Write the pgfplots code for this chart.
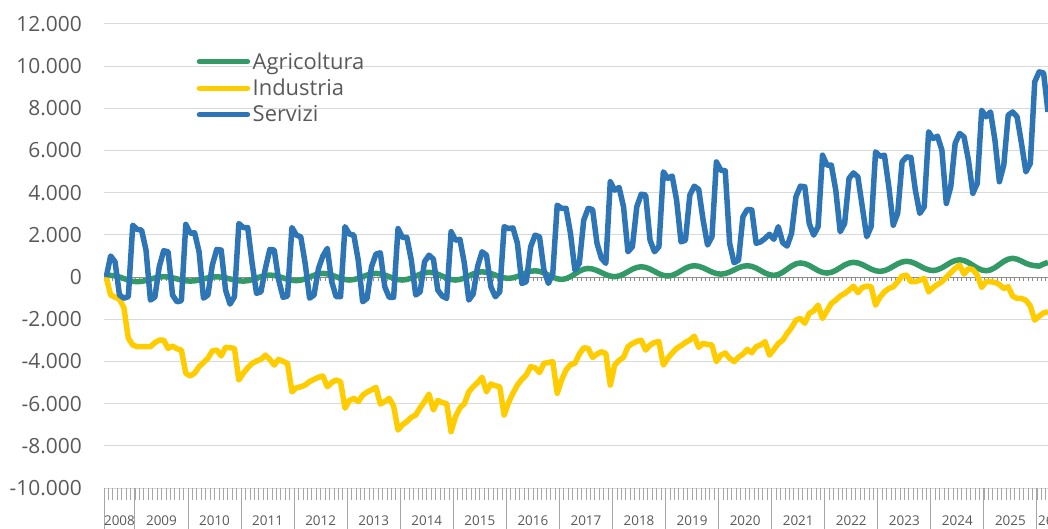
\documentclass[border=0pt]{standalone}
\usepackage{fontspec}
\setmainfont{Open Sans}
\usepackage{pgfplots}
\pgfplotsset{compat=1.18}
\usepackage{pgfplotstable}

\definecolor{agri}{HTML}{339966}
\definecolor{ind}{HTML}{FFCC00}
\definecolor{serv}{HTML}{2E75B6}
\definecolor{txt}{HTML}{595959}
\definecolor{gridc}{HTML}{D9D9D9}
\definecolor{tickc}{HTML}{A6A6A6}
\definecolor{zeroc}{HTML}{8C8C8C}

% k = months since June 2008
\pgfplotstableread{
k a i s
0 50 0 0
1 80 -850 1000
2 59 -950 725
3 5 -1050 -850
4 -70 -1450 -1000
5 -145 -2900 -930
6 -199 -3220 2460
7 -220 -3300 2260
8 -203 -3300 2230
9 -160 -3300 1280
10 -100 -3300 -1090
11 -40 -3110 -950
12 3 -2990 490
13 20 -2990 1250
14 5 -3380 1200
15 -33 -3270 -850
16 -85 -3400 -1170
17 -138 -3460 -1120
18 -175 -4560 2500
19 -190 -4690 2080
20 -176 -4550 2100
21 -139 -4250 1200
22 -88 -4050 -1000
23 -36 -3850 -850
24 1 -3500 570
25 15 -3460 1310
26 1 -3740 1280
27 -39 -3330 -620
28 -88 -3350 -1280
29 -139 -3380 -930
30 -176 -4880 2540
31 -190 -4560 2350
32 -170 -4300 2350
33 -119 -4090 650
34 -48 -3980 -770
35 24 -3900 -700
36 75 -3700 410
37 95 -3900 1310
38 76 -4170 1280
39 29 -3900 -140
40 -38 -4000 -960
41 -104 -4090 -900
42 -151 -5440 2350
43 -170 -5250 1990
44 -146 -5200 1910
45 -84 -5120 650
46 3 -4950 -1000
47 89 -4850 -850
48 151 -4750 400
49 175 -4690 1000
50 153 -5200 1360
51 96 -5000 -220
52 18 -4880 -930
53 -61 -4960 -930
54 -118 -6220 2390
55 -140 -5850 2040
56 -118 -5750 1990
57 -61 -5910 800
58 18 -5600 -1170
59 96 -5450 -1010
60 153 -5350 490
61 175 -5230 1090
62 153 -6020 1150
63 96 -5900 -460
64 18 -5750 -960
65 -61 -6110 -960
66 -118 -7250 2300
67 -140 -7000 1880
68 -114 -6850 1880
69 -48 -6650 800
70 45 -6540 -850
71 138 -6200 -700
72 204 -5900 730
73 230 -5550 1040
74 204 -6300 850
75 138 -5850 -620
76 45 -5950 -900
77 -48 -6000 -1010
78 -114 -7330 2150
79 -140 -6620 1750
80 -113 -6200 1790
81 -43 -6000 650
82 55 -5440 -1090
83 153 -5200 -800
84 223 -5000 500
85 250 -4750 1200
86 228 -5440 1040
87 173 -5070 -460
88 95 -5150 -930
89 18 -5200 -700
90 -38 -6540 2390
91 -60 -5950 2300
92 -35 -5500 2330
93 30 -5120 1600
94 120 -4850 -300
95 210 -4640 -220
96 275 -4250 1440
97 300 -4300 1990
98 271 -4530 1910
99 198 -4090 330
100 95 -4050 -300
101 -3 -4010 170
102 -81 -5510 3410
103 -110 -4880 3260
104 -74 -4400 3260
105 20 -4150 2070
106 150 -4090 330
107 280 -3650 650
108 374 -3350 2700
109 410 -3380 3260
110 383 -3810 3200
111 313 -3650 1600
112 215 -3540 890
113 118 -3620 650
114 47 -5120 4520
115 20 -4170 4120
116 53 -3950 4250
117 138 -3800 3330
118 255 -3300 1200
119 373 -3150 1440
120 457 -3050 3330
121 490 -2990 3930
122 459 -3460 3890
123 380 -3220 1750
124 270 -3100 1200
125 160 -3060 1440
126 81 -4170 4990
127 50 -3850 4680
128 84 -3600 4790
129 173 -3380 3650
130 295 -3250 1670
131 418 -3100 1750
132 506 -2990 3890
133 540 -2800 4310
134 512 -3330 4160
135 440 -3140 2700
136 340 -3200 1520
137 240 -3220 1910
138 168 -4010 5460
139 140 -3700 5070
140 168 -3600 5040
141 240 -3850 1600
142 340 -4010 680
143 440 -3800 800
144 512 -3650 2860
145 540 -3430 3210
146 508 -3590 3180
147 425 -3300 1600
148 310 -3220 1670
149 195 -3060 1830
150 112 -3700 2030
151 80 -3430 1790
152 121 -3150 2390
153 228 -2990 1630
154 375 -2670 1470
155 523 -2400 2070
156 629 -2040 3810
157 670 -1960 4310
158 636 -2190 4280
159 550 -1720 2540
160 430 -1600 1990
161 310 -1330 2390
162 224 -1960 5780
163 190 -1600 5310
164 226 -1250 5310
165 318 -1090 4120
166 445 -900 2150
167 573 -780 2540
168 664 -620 4680
169 700 -430 4940
170 670 -740 4750
171 593 -490 3330
172 485 -430 1910
173 378 -450 2390
174 300 -1330 5940
175 270 -950 5730
176 304 -700 5780
177 390 -540 4280
178 510 -460 2460
179 630 -220 3020
180 716 50 5460
181 750 95 5700
182 719 -220 5670
183 640 -220 4120
184 530 -150 3020
185 420 -60 3330
186 341 -700 6890
187 310 -500 6570
188 346 -350 6680
189 438 -220 6020
190 565 0 3490
191 693 200 4280
192 784 410 6340
193 820 570 6810
194 784 140 6650
195 690 410 5550
196 560 350 3970
197 430 100 4440
198 336 -490 7910
199 300 -220 7600
200 341 -220 7830
201 448 -250 6490
202 595 -350 4520
203 743 -540 5310
204 849 -460 7680
205 890 -900 7830
206 850 -1010 7600
207 760 -1010 6340
208 650 -1100 4990
209 580 -1370 5390
210 540 -2040 9260
211 520 -1850 9730
212 620 -1700 9680
213 700 -1640 7830
}\data

\begin{document}
\begin{tikzpicture}
\useasboundingbox (0,0) rectangle (1048bp,529bp);
\begin{axis}[
  at={(104bp,41bp)}, anchor=south west,
  width=944bp, height=464bp, scale only axis,
  xmin=-0.5, xmax=213, ymin=-10000, ymax=12000,
  clip mode=individual,
  axis line style={draw=none},
  scaled y ticks=false,
  ytick={-10000,-8000,-6000,-4000,-2000,0,2000,4000,6000,8000,10000,12000},
  /pgf/number format/.cd, 1000 sep={.}, assume math mode=true, /pgfplots/.cd,
  ymajorgrids,
  grid style={draw=gridc, line width=1bp},
  ytick style={draw=none},
  yticklabel style={font=\fontsize{21}{25}\selectfont, text=txt, anchor=east, inner sep=0pt, xshift=-10bp},
  xtick={-0.5,0.5,...,212.5},
  xticklabels={},
  xtick pos=bottom,
  tick align=outside,
  major tick length=12bp,
  xtick style={draw=tickc, line width=0.75bp},
  extra x ticks={-0.5,6.5,18.5,30.5,42.5,54.5,66.5,78.5,90.5,102.5,114.5,126.5,138.5,150.5,162.5,174.5,186.5,198.5,210.5},
  extra x tick labels={},
  extra x tick style={major tick length=41bp, xtick style={draw=tickc, line width=1bp}},
  legend style={at={(0.098,0.941)}, anchor=north west, draw=none, fill=none,
    font=\fontsize{22}{26}\selectfont, text=txt, row sep=6.5bp, inner sep=0pt,
    column sep=1.5bp, nodes={inner sep=1bp}},
  legend cell align=left,
  legend image code/.code={\draw[#1, line width=5.5bp, line cap=round] (0bp,0bp) -- (48bp,0bp);},
  every axis plot/.append style={line width=5.5bp, line join=round, no markers},
]
\draw[zeroc, line width=1bp] (axis cs:-0.5,0) -- (axis cs:213,0);
\pgfplotsinvokeforeach{-0.5,0.5,...,212.5}{\draw[zeroc, line width=0.75bp] (axis cs:#1,0) -- ([yshift=-4bp]axis cs:#1,0);}
\addplot[agri] table[x=k, y=a] {\data};
\addlegendentry{Agricoltura}
\addplot[ind] table[x=k, y=i] {\data};
\addlegendentry{Industria}
\addplot[serv] table[x=k, y=s] {\data};
\addlegendentry{Servizi}
\begin{scope}[every node/.style={font=\fontsize{13.5}{16}\selectfont, text=txt, inner sep=0pt}]
\node at ([yshift=-33bp]axis cs:3,-10000) {2008};
\node at ([yshift=-33bp]axis cs:12.5,-10000) {2009};
\node at ([yshift=-33bp]axis cs:24.5,-10000) {2010};
\node at ([yshift=-33bp]axis cs:36.5,-10000) {2011};
\node at ([yshift=-33bp]axis cs:48.5,-10000) {2012};
\node at ([yshift=-33bp]axis cs:60.5,-10000) {2013};
\node at ([yshift=-33bp]axis cs:72.5,-10000) {2014};
\node at ([yshift=-33bp]axis cs:84.5,-10000) {2015};
\node at ([yshift=-33bp]axis cs:96.5,-10000) {2016};
\node at ([yshift=-33bp]axis cs:108.5,-10000) {2017};
\node at ([yshift=-33bp]axis cs:120.5,-10000) {2018};
\node at ([yshift=-33bp]axis cs:132.5,-10000) {2019};
\node at ([yshift=-33bp]axis cs:144.5,-10000) {2020};
\node at ([yshift=-33bp]axis cs:156.5,-10000) {2021};
\node at ([yshift=-33bp]axis cs:168.5,-10000) {2022};
\node at ([yshift=-33bp]axis cs:180.5,-10000) {2023};
\node at ([yshift=-33bp]axis cs:192.5,-10000) {2024};
\node at ([yshift=-33bp]axis cs:204.5,-10000) {2025};
\node[anchor=west] at ([yshift=-33bp, xshift=1bp]axis cs:210.5,-10000) {26};
\end{scope}
\end{axis}
\end{tikzpicture}
\end{document}
